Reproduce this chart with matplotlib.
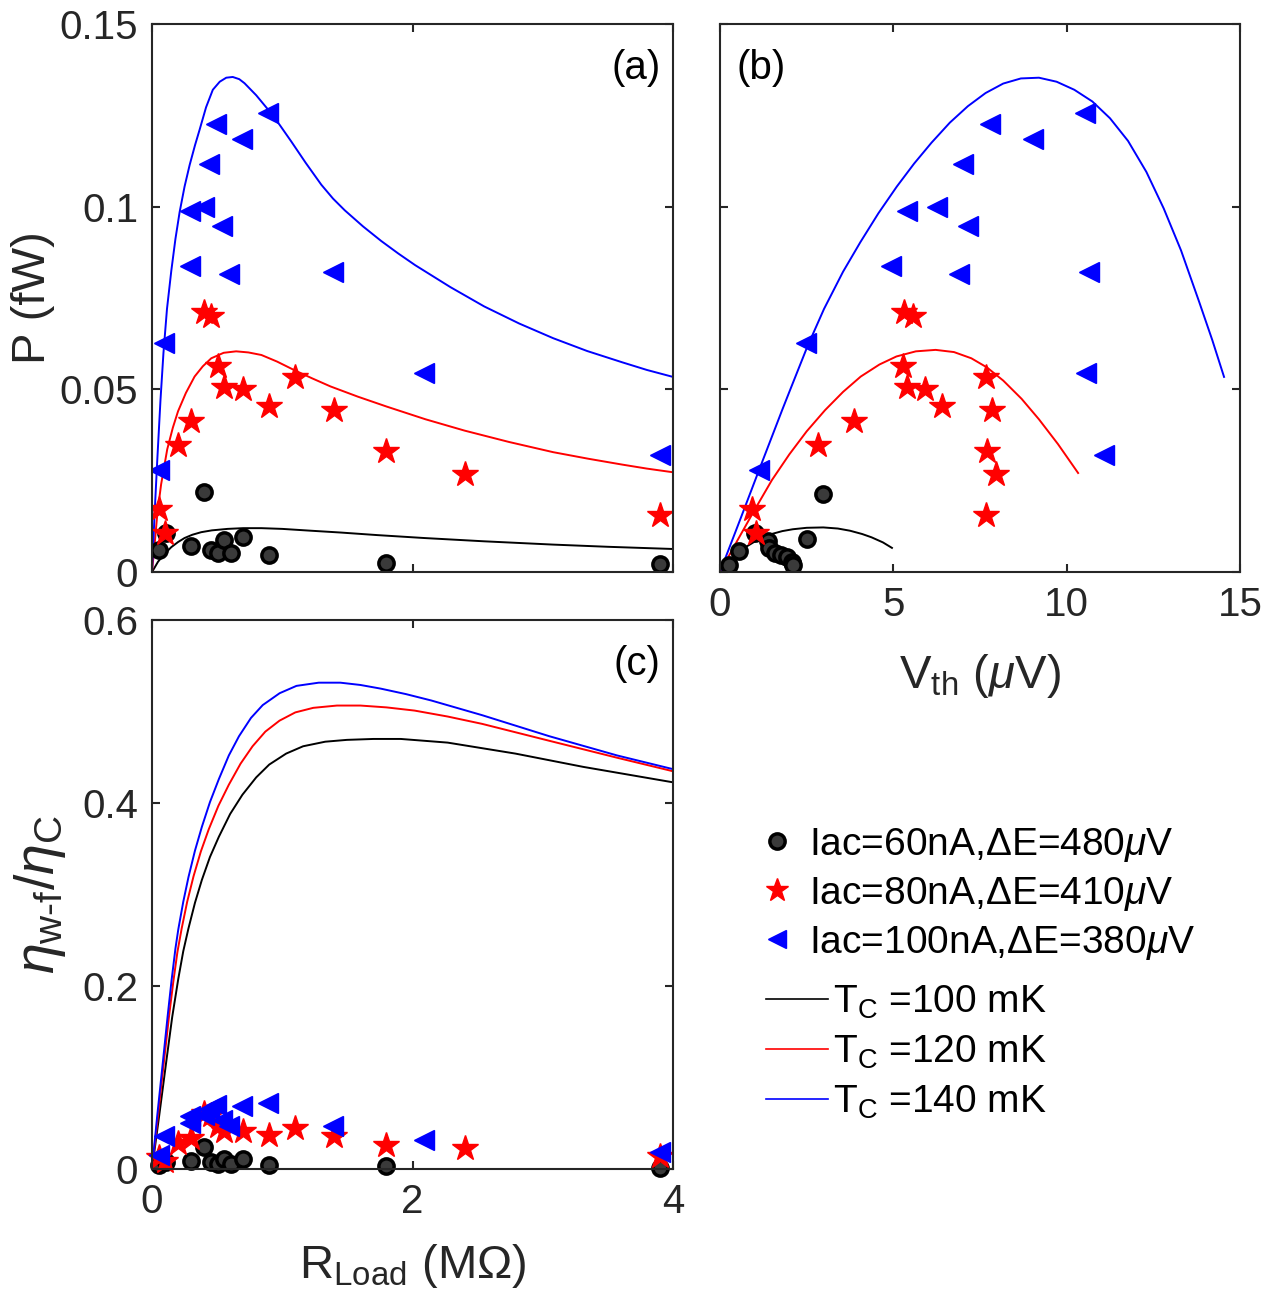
import matplotlib
matplotlib.use("Agg")
import matplotlib.pyplot as plt
from matplotlib.lines import Line2D

plt.rcParams["font.family"] = ["Liberation Sans", "DejaVu Sans"]
plt.rcParams["mathtext.fontset"] = "custom"
plt.rcParams["mathtext.rm"] = "Liberation Sans"
plt.rcParams["mathtext.it"] = "Liberation Sans:italic"
plt.rcParams["mathtext.bf"] = "Liberation Sans:bold"

# ---- measured points, panel (a) and (c): load resistance (MOhm) ----
R_60 = [0.05, 0.11, 0.30, 0.40, 0.45, 0.51, 0.55, 0.61, 0.70, 0.90, 1.80, 3.90]
P_60 = [0.0061, 0.0107, 0.0070, 0.0218, 0.0061, 0.0053, 0.0087, 0.0053, 0.0095, 0.0046, 0.0026, 0.0023]
eta_60 = [0.0047, 0.0080, 0.0084, 0.0237, 0.0073, 0.0058, 0.0109, 0.0058, 0.0109, 0.0047, 0.0029, 0.0010]

R_80 = [0.05, 0.10, 0.20, 0.30, 0.40, 0.45, 0.51, 0.55, 0.70, 0.90, 1.10, 1.40, 1.80, 2.40, 3.90]
P_80 = [0.0172, 0.0107, 0.0347, 0.0412, 0.0712, 0.0702, 0.0563, 0.0507, 0.0501, 0.0454, 0.0534, 0.0444, 0.0330, 0.0268, 0.0155]
eta_80 = [0.013, 0.009, 0.028, 0.034, 0.061, 0.059, 0.0466, 0.041, 0.041, 0.0375, 0.0448, 0.0357, 0.0266, 0.023, 0.014]

R_100 = [0.05, 0.09, 0.29, 0.29, 0.40, 0.44, 0.49, 0.54, 0.59, 0.69, 0.89, 1.39, 2.09, 3.90]
P_100 = [0.0278, 0.0626, 0.0838, 0.0988, 0.0999, 0.1116, 0.1226, 0.0946, 0.0815, 0.1184, 0.1256, 0.0821, 0.0545, 0.0320]
eta_100 = [0.0157, 0.0357, 0.0503, 0.058, 0.0594, 0.0656, 0.0703, 0.0539, 0.0466, 0.0685, 0.0721, 0.0474, 0.0321, 0.0186]

# ---- measured points, panel (b): thermovoltage (uV) ----
V_60 = [0.26, 0.55, 1.00, 1.39, 1.42, 1.59, 1.76, 1.92, 2.07, 2.12, 2.50, 2.96]
Pv_60 = [0.0018, 0.0057, 0.0107, 0.0085, 0.0065, 0.0053, 0.0047, 0.0041, 0.0028, 0.0018, 0.0089, 0.0213]
V_80 = [0.93, 1.03, 2.83, 3.87, 5.31, 5.58, 5.29, 5.38, 5.91, 6.39, 7.66, 7.86, 7.69, 7.97, 7.68]
V_100 = [1.13, 2.47, 4.93, 5.38, 6.25, 7.02, 7.78, 7.14, 6.89, 9.04, 10.53, 10.64, 10.57, 11.08]

# ---- model curves, panel (a) ----
Ra_60 = [0, 0.02, 0.046, 0.09, 0.148, 0.20, 0.25, 0.31, 0.378, 0.46, 0.58, 0.70, 0.84, 1.0, 1.22, 1.45,
         1.73, 2.09, 2.55, 3.08, 3.5, 4.0]
Pa_60 = [0, 0.0012, 0.0028, 0.0047, 0.0068, 0.0082, 0.0093, 0.0102, 0.0109, 0.0114, 0.0118, 0.0120, 0.0120,
         0.0118, 0.0113, 0.0108, 0.0101, 0.0093, 0.0084, 0.0075, 0.0069, 0.0063]
Ra_80 = [0, 0.02, 0.041, 0.07, 0.117, 0.16, 0.20, 0.26, 0.327, 0.39, 0.455, 0.55, 0.646, 0.74, 0.84, 0.96,
         1.09, 1.23, 1.37, 1.58, 1.80, 2.1, 2.4, 2.74, 3.08, 3.35, 3.61, 3.8, 4.0]
Pa_80 = [0, 0.0075, 0.0160, 0.0240, 0.0336, 0.0395, 0.0440, 0.0490, 0.0535, 0.0563, 0.0585, 0.0600, 0.0604,
         0.0601, 0.0594, 0.0576, 0.0553, 0.0530, 0.0508, 0.0480, 0.0453, 0.0418, 0.0387, 0.0356, 0.0328,
         0.0310, 0.0294, 0.0283, 0.0273]
Ra_100 = [0, 0.02, 0.041, 0.065, 0.088, 0.115, 0.148, 0.18, 0.212, 0.25, 0.289, 0.33, 0.365, 0.415, 0.467,
          0.52, 0.57, 0.62, 0.67, 0.71, 0.80, 0.90, 0.98, 1.07, 1.18, 1.30, 1.39, 1.48, 1.62, 1.76, 1.89,
          2.02, 2.29, 2.55, 2.82, 3.08, 3.34, 3.61, 3.8, 4.0]
Pa_100 = [0, 0.016, 0.031, 0.047, 0.060, 0.0720, 0.0824, 0.0912, 0.0985, 0.1055, 0.1114, 0.1168, 0.1210,
          0.1272, 0.1320, 0.1342, 0.1353, 0.1355, 0.1349, 0.1338, 0.1305, 0.1262, 0.1224, 0.1178, 0.1120,
          0.1060, 0.1022, 0.0990, 0.0946, 0.0906, 0.0872, 0.0840, 0.0780, 0.0727, 0.0680, 0.0640, 0.0605,
          0.0574, 0.0553, 0.0534]

# ---- model curves, panel (b) ----
Vb_60 = [0, 0.25, 0.46, 0.7, 0.98, 1.25, 1.49, 1.8, 2.1, 2.5, 2.98, 3.4, 3.75, 4.1, 4.37, 4.7, 4.96]
Pb_60 = [0, 0.0028, 0.0048, 0.0066, 0.0082, 0.0095, 0.0104, 0.0112, 0.0117, 0.0121, 0.0122, 0.0119, 0.0113,
         0.0104, 0.0095, 0.0081, 0.0066]
Vb_80 = [0, 0.5, 0.98, 1.5, 2.0, 2.5, 3.03, 3.55, 4.06, 4.6, 5.09, 5.65, 6.22, 6.75, 7.25, 7.7, 8.17, 8.7,
         9.2, 9.75, 10.33]
Pb_80 = [0, 0.0086, 0.0167, 0.0252, 0.0322, 0.0385, 0.0443, 0.0493, 0.0535, 0.0568, 0.0590, 0.0604, 0.0608,
         0.0602, 0.0585, 0.0560, 0.0524, 0.0474, 0.0418, 0.0350, 0.0271]
Vb_100 = [0, 0.6, 1.13, 1.8, 2.0, 2.52, 3.0, 3.55, 4.05, 4.57, 5.1, 5.6, 6.1, 6.63, 7.15, 7.66, 8.17, 8.68,
          9.2, 9.71, 10.22, 10.74, 11.25, 11.77, 12.3, 12.8, 13.3, 13.82, 14.2, 14.54]
Pb_100 = [0, 0.0148, 0.028, 0.0445, 0.0493, 0.0617, 0.0720, 0.0822, 0.0903, 0.0982, 0.1055, 0.1118, 0.1175,
          0.1230, 0.1275, 0.1311, 0.1337, 0.1351, 0.1353, 0.1342, 0.1320, 0.1288, 0.1242, 0.1180, 0.1095,
          0.0995, 0.0880, 0.0740, 0.0635, 0.0534]

# ---- model curves, panel (c) ----
Rc_60 = [0, 0.055, 0.111, 0.155, 0.202, 0.24, 0.28, 0.33, 0.383, 0.445, 0.513, 0.6, 0.694, 0.8, 0.9, 1.03,
         1.16, 1.33, 1.497, 1.7, 1.91, 2.27, 2.79, 3.31, 4.0]
Ec_60 = [0, 0.058, 0.119, 0.166, 0.208, 0.238, 0.263, 0.291, 0.316, 0.341, 0.363, 0.388, 0.409, 0.428, 0.442,
         0.454, 0.462, 0.467, 0.469, 0.470, 0.470, 0.466, 0.454, 0.4395, 0.4226]
Rc_80 = [0, 0.045, 0.093, 0.13, 0.163, 0.195, 0.228, 0.27, 0.319, 0.375, 0.435, 0.51, 0.59, 0.68, 0.772,
         0.87, 0.979, 1.1, 1.238, 1.42, 1.6, 1.8, 2.016, 2.27, 2.534, 3.05, 3.57, 4.0]
Ec_80 = [0, 0.057, 0.119, 0.166, 0.204, 0.237, 0.263, 0.292, 0.320, 0.347, 0.371, 0.397, 0.420, 0.443, 0.462,
         0.478, 0.490, 0.499, 0.504, 0.5065, 0.5065, 0.5045, 0.501, 0.4945, 0.4865, 0.468, 0.4495, 0.4347]
Rc_100 = [0, 0.04, 0.085, 0.12, 0.15, 0.18, 0.202, 0.24, 0.28, 0.33, 0.383, 0.445, 0.513, 0.59, 0.668, 0.76,
          0.85, 0.98, 1.109, 1.28, 1.446, 1.6, 1.756, 1.95, 2.145, 2.534, 3.05, 3.57, 4.0]
Ec_100 = [0, 0.058, 0.119, 0.167, 0.206, 0.241, 0.262, 0.292, 0.319, 0.348, 0.374, 0.401, 0.426, 0.452,
          0.473, 0.493, 0.507, 0.520, 0.528, 0.5315, 0.5315, 0.529, 0.525, 0.519, 0.512, 0.496, 0.473,
          0.452, 0.437]

series_labels = ["Iac=60nA,\u0394E=480$\\mu$V", "Iac=80nA,\u0394E=410$\\mu$V", "Iac=100nA,\u0394E=380$\\mu$V"]
curve_labels = ["T$_{\\rm C}$ =100 mK", "T$_{\\rm C}$ =120 mK", "T$_{\\rm C}$ =140 mK"]

FS = 29
LFS = 34
AXC = "#262626"
LW = 1.4
circ = dict(marker="o", ms=11, mfc="#3a3a3a", mec="black", mew=2.5, ls="none")
star = dict(marker="*", ms=19, mfc="red", mec="red", mew=1, ls="none")
tri = dict(marker="<", ms=14, mfc="blue", mec="blue", mew=1, ls="none")

W, H = 1271, 1313
fig = plt.figure(figsize=(W / 100, H / 100), dpi=100)
ax_a = fig.add_axes([152 / W, 1 - 572 / H, 521 / W, 548 / H])
ax_b = fig.add_axes([720 / W, 1 - 572 / H, 520 / W, 548 / H])
ax_c = fig.add_axes([152 / W, 1 - 1169 / H, 521 / W, 549 / H])

# (a)
ax_a.plot(Ra_60, Pa_60, color="black", lw=LW)
ax_a.plot(Ra_80, Pa_80, color="red", lw=LW)
ax_a.plot(Ra_100, Pa_100, color="blue", lw=LW)
ax_a.plot(R_60, P_60, **circ)
ax_a.plot(R_80, P_80, **star)
ax_a.plot(R_100, P_100, **tri)

# (b)
ax_b.plot(Vb_60, Pb_60, color="black", lw=LW)
ax_b.plot(Vb_80, Pb_80, color="red", lw=LW)
ax_b.plot(Vb_100, Pb_100, color="blue", lw=LW)
ax_b.plot(V_60, Pv_60, **circ)
ax_b.plot(V_80, P_80, **star)
ax_b.plot(V_100, P_100, **tri)

# (c)
ax_c.plot(Rc_60, Ec_60, color="black", lw=LW)
ax_c.plot(Rc_80, Ec_80, color="red", lw=LW)
ax_c.plot(Rc_100, Ec_100, color="blue", lw=LW)
ax_c.plot(R_60, eta_60, clip_on=False, **circ)
ax_c.plot(R_80, eta_80, clip_on=False, **star)
ax_c.plot(R_100, eta_100, clip_on=False, **tri)

for ax in (ax_a, ax_b, ax_c):
    for sp in ax.spines.values():
        sp.set_color(AXC)
        sp.set_linewidth(1.5)
    ax.tick_params(direction="in", length=5.5, width=1.5, colors=AXC, labelsize=FS,
                   top=True, right=True, pad=10, labelcolor=AXC)

ax_a.set_xlim(0, 4)
ax_a.set_ylim(0, 0.15)
ax_a.set_xticks([0, 2, 4])
ax_a.set_xticklabels([])
ax_a.set_yticks([0, 0.05, 0.1, 0.15])
ax_a.set_yticklabels(["0", "0.05", "0.1", "0.15"])
ax_a.set_ylabel("P (fW)", fontsize=LFS, color=AXC, labelpad=3)
ax_a.text(0.93, 0.955, "(a)", transform=ax_a.transAxes, fontsize=FS, ha="center", va="top")

ax_b.set_xlim(0, 15)
ax_b.set_ylim(0, 0.15)
ax_b.set_xticks([0, 5, 10, 15])
ax_b.set_yticks([0, 0.05, 0.1, 0.15])
ax_b.set_yticklabels([])
ax_b.set_xlabel("V$_{\\rm th}$ ($\\mu$V)", fontsize=LFS, color=AXC, labelpad=20)
ax_b.text(0.08, 0.955, "(b)", transform=ax_b.transAxes, fontsize=FS, ha="center", va="top")

ax_c.set_xlim(0, 4)
ax_c.set_ylim(0, 0.6)
ax_c.set_xticks([0, 2, 4])
ax_c.set_yticks([0, 0.2, 0.4, 0.6])
ax_c.set_yticklabels(["0", "0.2", "0.4", "0.6"])
ax_c.set_xlabel("R$_{\\rm Load}$ (M\u03a9)", fontsize=LFS, color=AXC, labelpad=15)
ax_c.set_ylabel("$\\eta_{\\rm w\\text{-}f}/\\eta_{\\rm C}$", fontsize=40, color=AXC, labelpad=10)
ax_c.text(0.93, 0.955, "(c)", transform=ax_c.transAxes, fontsize=FS, ha="center", va="top")

# legends
mk_handles = [Line2D([], [], marker="o", ms=11, mfc="#3a3a3a", mec="black", mew=2.5, ls="none"),
              Line2D([], [], marker="*", ms=17, color="red", ls="none"),
              Line2D([], [], marker="<", ms=13, color="blue", ls="none")]
leg1 = fig.legend(mk_handles, series_labels, loc="upper left", bbox_to_anchor=(758 / W, 1 - 826 / H),
                  frameon=False, fontsize=28, handlelength=1.0, handletextpad=0.3,
                  labelspacing=0.28, borderpad=0, borderaxespad=0)
ln_handles = [Line2D([], [], color="black", lw=1.2),
              Line2D([], [], color="red", lw=1.2),
              Line2D([], [], color="blue", lw=1.2)]
leg2 = fig.legend(ln_handles, curve_labels, loc="upper left", bbox_to_anchor=(766 / W, 1 - 984 / H),
                  frameon=False, fontsize=28, handlelength=1.6, handletextpad=0.12,
                  labelspacing=0.32, borderpad=0, borderaxespad=0)

fig.savefig("out.png", dpi=100)
